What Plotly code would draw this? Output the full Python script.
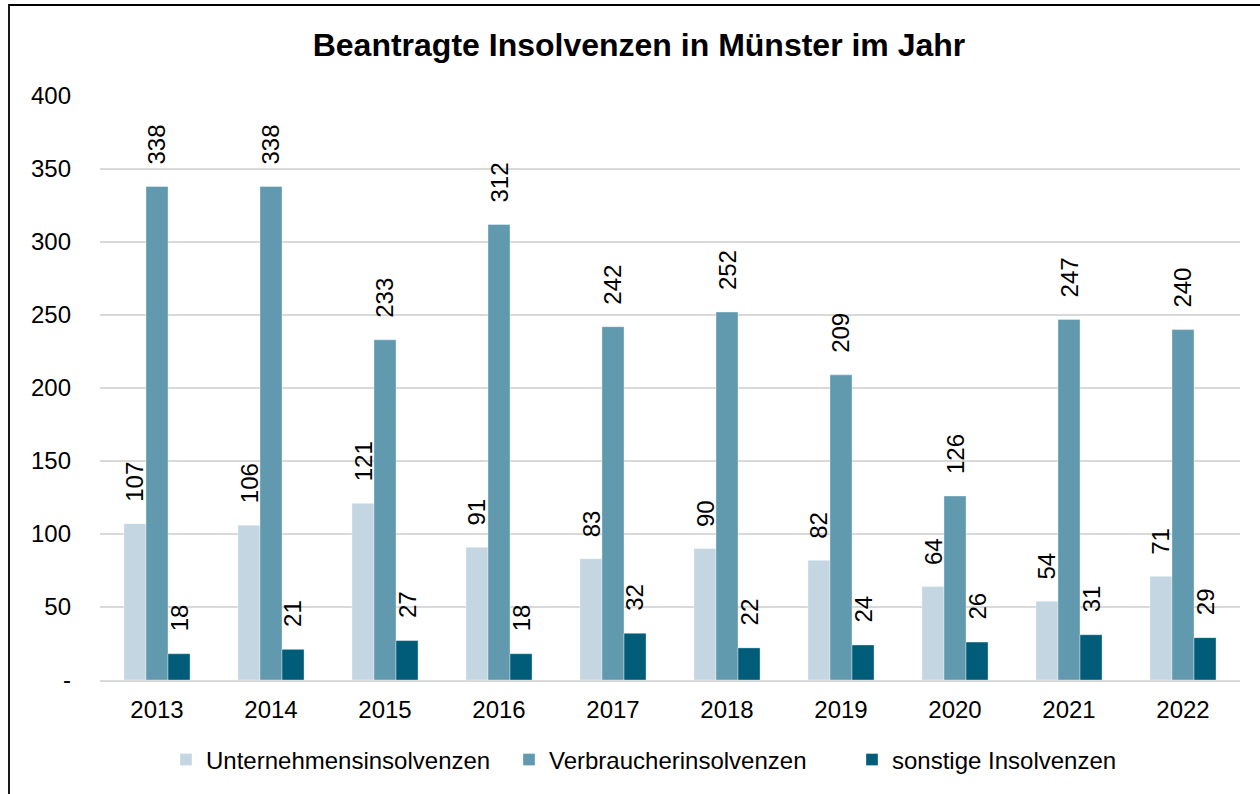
import plotly.graph_objects as go

years = ["2013", "2014", "2015", "2016", "2017", "2018", "2019", "2020", "2021", "2022"]
series_names = ["Unternehmensinsolvenzen", "Verbraucherinsolvenzen", "sonstige Insolvenzen"]
unternehmen = [107, 106, 121, 91, 83, 90, 82, 64, 54, 71]
verbraucher = [338, 338, 233, 312, 242, 252, 209, 126, 247, 240]
sonstige = [18, 21, 27, 18, 32, 22, 24, 26, 31, 29]
y_tickvals = [0, 50, 100, 150, 200, 250, 300, 350, 400]
y_ticktext = ["-", "50", "100", "150", "200", "250", "300", "350", "400"]
title_text = "Beantragte Insolvenzen in Münster im Jahr"

colors = ["#C3D6E2", "#6199AE", "#005C78"]
series = [unternehmen, verbraucher, sonstige]
FONT = "Liberation Sans, Arial, sans-serif"

W, H = 1260, 794
ML, MT = 100, 96
MR = W - 1240
MB = H - 680
pw, ph = W - ML - MR, H - MT - MB

fig = go.Figure()
for name, vals, col in zip(series_names, series, colors):
    fig.add_trace(go.Bar(
        x=years, y=vals, name=name,
        marker=dict(color=col, line=dict(color="rgba(255,255,255,0.6)", width=0.6)),
        hoverinfo="x+y+name",
    ))

bar_px = pw / len(years) * (1 - 0.42) / 3
annotations = []
for i, vals in enumerate(series):
    dx = (i - 1) * bar_px
    for k, v in enumerate(vals):
        annotations.append(dict(
            x=k, y=v, xref="x", yref="y", text=str(v), showarrow=False,
            textangle=-90, xanchor="center", yanchor="bottom",
            xshift=dx, yshift=20,
            font=dict(family=FONT, size=24, color="#000000"),
        ))

def py(page_y):
    return (ph - (page_y - MT)) / ph

def px(page_x):
    return (page_x - ML) / pw

bx0, by1 = px(9), py(5)
bx1, by0 = px(W), py(H)
border_path = f"M {bx0},{by0} L {bx0},{by1} L {bx1},{by1}"

fig.update_layout(
    width=W, height=H,
    margin=dict(l=ML, r=MR, t=MT, b=MB, autoexpand=False),
    paper_bgcolor="white", plot_bgcolor="white",
    barmode="group", bargap=0.42, bargroupgap=0,
    font=dict(family=FONT, size=24, color="#000000"),
    title=dict(text="<b>" + title_text + "</b>", x=639 / W, xanchor="center",
               y=1 - 45 / H, yanchor="middle", yref="container",
               font=dict(family=FONT, size=32, color="#000000")),
    showlegend=True,
    legend=dict(orientation="h", x=px(166), xanchor="left",
                y=py(760), yanchor="middle",
                font=dict(family=FONT, size=24, color="#000000"),
                entrywidth=298, entrywidthmode="pixels",
                itemclick=False, itemdoubleclick=False),
    annotations=annotations,
    shapes=[dict(type="path", xref="paper", yref="paper", path=border_path,
                 line=dict(color="#000000", width=1.8), fillcolor="rgba(0,0,0,0)", layer="above")],
)
fig.update_xaxes(type="category", range=[-0.5, len(years) - 0.5],
                 showgrid=False, showline=True, linecolor="#D9D9D9", linewidth=2,
                 ticks="", ticklabelstandoff=7,
                 tickfont=dict(family=FONT, size=24, color="#000000"))
fig.update_yaxes(range=[0, 400], tickvals=y_tickvals, ticktext=y_ticktext,
                 showgrid=True, gridcolor="#D9D9D9", gridwidth=2,
                 zeroline=False, showline=False, ticks="", ticklabelstandoff=28,
                 tickfont=dict(family=FONT, size=24, color="#000000"))

fig.write_html("out.html", config={"displayModeBar": False},
               post_script="document.body.style.margin='0';document.body.style.overflow='hidden';")
